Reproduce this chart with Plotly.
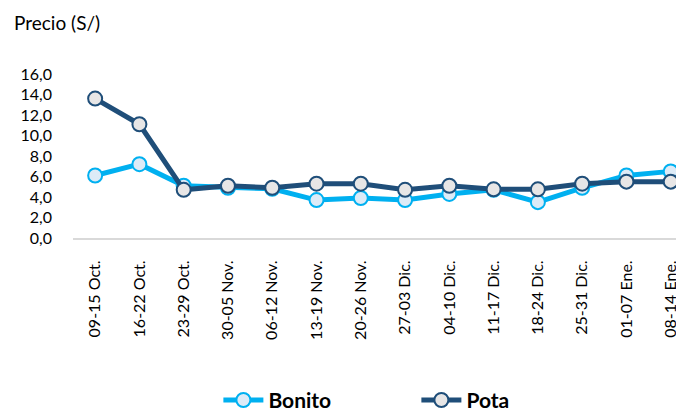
import plotly.graph_objects as go

categories = ["09-15 Oct.", "16-22 Oct.", "23-29 Oct.", "30-05 Nov.", "06-12 Nov.",
              "13-19 Nov.", "20-26 Nov.", "27-03 Dic.", "04-10 Dic.", "11-17 Dic.",
              "18-24 Dic.", "25-31 Dic.", "01-07 Ene.", "08-14 Ene."]
bonito = [6.1, 7.2, 5.1, 4.9, 4.8, 3.7, 3.9, 3.7, 4.3, 4.7, 3.5, 4.9, 6.1, 6.5]
pota = [13.6, 11.1, 4.7, 5.1, 4.9, 5.3, 5.3, 4.7, 5.1, 4.75, 4.75, 5.3, 5.5, 5.5]
y_ticks = [0, 2, 4, 6, 8, 10, 12, 14, 16]
y_labels = ["0,0", "2,0", "4,0", "6,0", "8,0", "10,0", "12,0", "14,0", "16,0"]

FONT = "Lato"

fig = go.Figure()
fig.add_trace(go.Scatter(
    x=categories, y=bonito, name="Bonito", mode="lines+markers",
    line=dict(color="#00B0F0", width=5),
    marker=dict(size=14, color="#DDEBF7", line=dict(color="#00B0F0", width=2)),
))
fig.add_trace(go.Scatter(
    x=categories, y=pota, name="Pota", mode="lines+markers",
    line=dict(color="#1F4E79", width=5),
    marker=dict(size=14, color="#E7E6E6", line=dict(color="#1F4E79", width=2)),
))

# page body has an 8px default margin, so the figure is 8px smaller than the window
fig.update_layout(
    width=676, height=407,
    margin=dict(l=65, r=0, t=66, b=177, autoexpand=False),
    paper_bgcolor="white", plot_bgcolor="white",
    font=dict(family=FONT, size=15, color="#000000"),
    showlegend=True,
    legend=dict(orientation="h", x=0.562, xanchor="center", y=-0.99,
                yanchor="middle", font=dict(family=FONT, size=21, weight="bold"),
                itemwidth=40, entrywidth=143, tracegroupgap=0,
                bgcolor="rgba(0,0,0,0)"),
    annotations=[dict(text="Precio (S/)", xref="paper", yref="paper", x=-0.1, y=1.317,
                      xanchor="left", yanchor="middle", showarrow=False,
                      font=dict(family=FONT, size=19))],
)
fig.update_xaxes(
    type="category", range=[-0.5, 13.3], tickangle=-90, automargin=False,
    showgrid=False, showline=True, linecolor="#D9D9D9", linewidth=2,
    ticks="", tickfont=dict(family=FONT, size=16), ticklabelstandoff=14,
)
fig.update_yaxes(
    range=[0, 16], tickvals=y_ticks, ticktext=y_labels, automargin=False,
    showgrid=False, zeroline=False, showline=False, ticks="",
    tickfont=dict(family=FONT, size=16), ticklabelstandoff=20,
)
fig.write_html("out.html")
